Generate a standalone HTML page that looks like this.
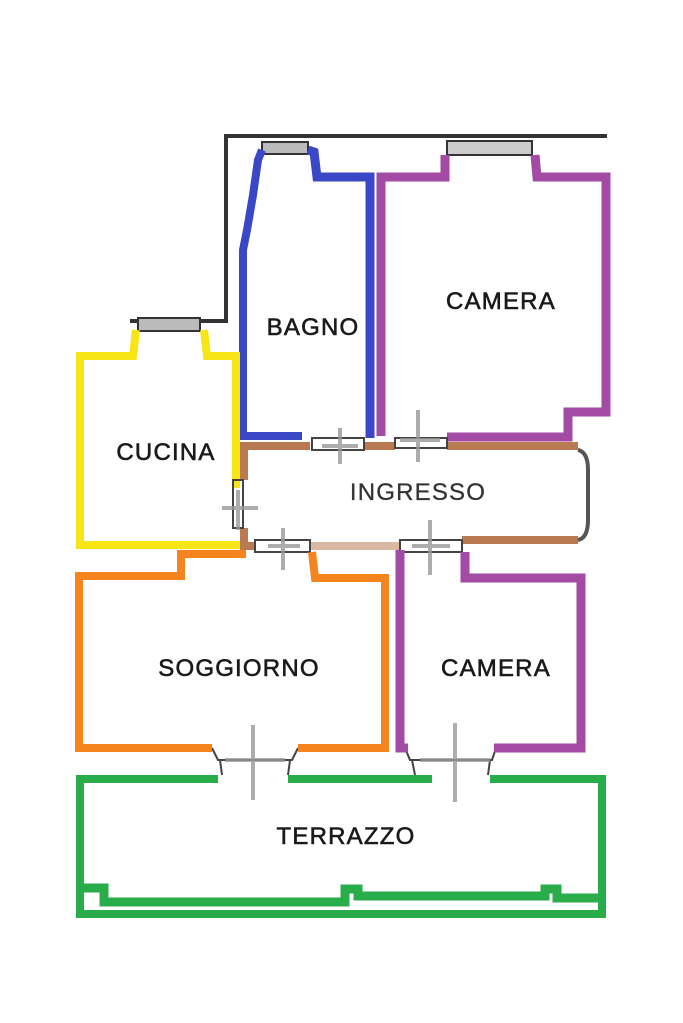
<!DOCTYPE html>
<html><head><meta charset="utf-8"><style>
html,body{margin:0;padding:0;background:#fff;}
svg{display:block}
text{font-family:"Liberation Sans",Arial,sans-serif;font-size:24px;fill:#1a1a1a;stroke:#1a1a1a;stroke-width:0.6;letter-spacing:1.2px;text-anchor:middle}
</style></head><body>
<svg width="683" height="1023" viewBox="0 0 683 1023" xmlns="http://www.w3.org/2000/svg">
<polyline points="130,321 226,321 226,136 607,136" fill="none" stroke="#333" stroke-width="4"/>
<rect x="262" y="142" width="46" height="12" fill="#bbb" stroke="#333" stroke-width="2"/>
<rect x="447" y="141" width="85" height="14" fill="#ccc" stroke="#333" stroke-width="2"/>
<rect x="138" y="318" width="62" height="13" fill="#bbb" stroke="#333" stroke-width="2"/>
<polyline points="302,436 243,436 243,250 247,230 253,195 258,160 262,150" fill="none" stroke="#3a48c8" stroke-width="8"/>
<polyline points="308,150 314,152 317,177 370,177 370,438" fill="none" stroke="#3a48c8" stroke-width="9"/>
<polyline points="381,436 381,177 445,177 445,155" fill="none" stroke="#a24aa4" stroke-width="9"/>
<polyline points="535,155 537,177 606,177 606,412 568,412 568,437 447,437" fill="none" stroke="#a24aa4" stroke-width="9"/>
<polyline points="136,330 133,356 80,356 80,545 240,545" fill="none" stroke="#f7e516" stroke-width="8"/>
<polyline points="204,330 207,356 236,356 236,488" fill="none" stroke="#f7e516" stroke-width="8"/>
<polyline points="244,480 244,446 310,446" fill="none" stroke="#b97a52" stroke-width="8"/>
<line x1="364" y1="446" x2="395" y2="446" stroke="#b97a52" stroke-width="8"/>
<line x1="447" y1="446" x2="578" y2="446" stroke="#b97a52" stroke-width="8"/>
<polyline points="244,528 244,546 255,546" fill="none" stroke="#b97a52" stroke-width="8"/>
<line x1="310" y1="546" x2="400" y2="546" stroke="#d9b9a4" stroke-width="8"/>
<line x1="462" y1="540" x2="578" y2="540" stroke="#b97a52" stroke-width="8"/>
<path d="M578,450 Q588,452 588,470 L588,520 Q588,538 578,540" fill="none" stroke="#555" stroke-width="4"/>
<g fill="none" stroke="#444" stroke-width="2">
<rect x="312" y="438" width="52" height="12"/>
<rect x="395" y="438" width="52" height="10"/>
<rect x="233" y="480" width="10" height="48"/>
<rect x="255" y="540" width="55" height="12"/>
<rect x="400" y="540" width="62" height="12"/>
<path d="M212,748 L218,760 L292,760 L298,748 M220,760 L222,775 M290,760 L288,775"/>
<path d="M405,748 L410,760 L492,760 L496,748 M412,760 L415,775 M490,760 L488,775"/>
</g>
<g stroke="#999" stroke-width="4" opacity="0.8">
<line x1="340" y1="428" x2="340" y2="464"/><line x1="322" y1="446" x2="358" y2="446"/>
<line x1="418" y1="410" x2="418" y2="462"/><line x1="400" y1="440" x2="440" y2="440"/>
<line x1="222" y1="508" x2="258" y2="508"/><line x1="238" y1="490" x2="238" y2="530"/>
<line x1="283" y1="528" x2="283" y2="570"/><line x1="268" y1="546" x2="300" y2="546"/>
<line x1="430" y1="520" x2="430" y2="575"/><line x1="412" y1="546" x2="450" y2="546"/>
<line x1="253" y1="725" x2="253" y2="800"/><line x1="225" y1="760" x2="285" y2="760"/>
<line x1="455" y1="723" x2="455" y2="802"/><line x1="420" y1="760" x2="490" y2="760"/>
</g>
<polyline points="212,748 79,748 79,576 181,576 181,554 246,554" fill="none" stroke="#f5841f" stroke-width="8"/>
<polyline points="312,552 315,578 385,578 385,748 298,748" fill="none" stroke="#f5841f" stroke-width="8"/>
<polyline points="400,550 400,748 408,748" fill="none" stroke="#a24aa4" stroke-width="9"/>
<polyline points="494,748 581,748 581,578 465,578 465,552" fill="none" stroke="#a24aa4" stroke-width="9"/>
<polyline points="218,779 80,779 80,914 602,914 602,779 490,779" fill="none" stroke="#29ad4a" stroke-width="8"/>
<line x1="288" y1="779" x2="432" y2="779" stroke="#29ad4a" stroke-width="8"/>
<polyline points="80,888 104,888 104,902 345,902 345,889 358,889 358,896 545,896 545,889 557,889 557,898 602,898" fill="none" stroke="#29ad4a" stroke-width="9"/>
<text x="501" y="309">CAMERA</text>
<text x="313" y="335">BAGNO</text>
<text x="166" y="460">CUCINA</text>
<text x="418" y="500" style="fill:#333;stroke:#333;stroke-width:0.3">INGRESSO</text>
<text x="239" y="676">SOGGIORNO</text>
<text x="496" y="676">CAMERA</text>
<text x="346" y="844">TERRAZZO</text>
</svg>
</body></html>
